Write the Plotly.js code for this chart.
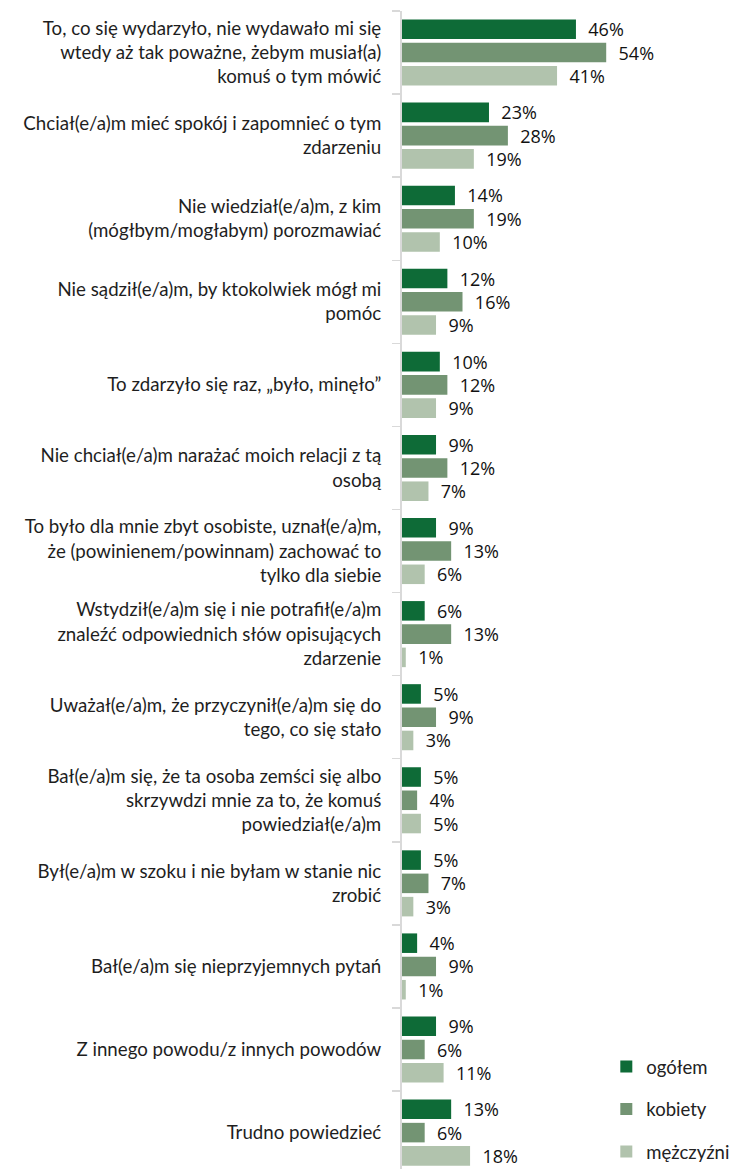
<!DOCTYPE html>
<html>
<head>
<meta charset="utf-8">
<script src="https://cdn.plot.ly/plotly-3.0.1.min.js"></script>
<style>html,body{margin:0;padding:0;background:#fff;}#chart{width:731px;height:1169px;}</style>
</head>
<body>
<div id="chart"></div>
<script>
const categories = [
  "To, co się wydarzyło, nie wydawało mi się<br>wtedy aż tak poważne, żebym musiał(a)<br>komuś o tym mówić",
  "Chciał(e/a)m mieć spokój i zapomnieć o tym<br>zdarzeniu",
  "Nie wiedział(e/a)m, z kim<br>(mógłbym/mogłabym) porozmawiać",
  "Nie sądził(e/a)m, by ktokolwiek mógł mi<br>pomóc",
  "To zdarzyło się raz, „było, minęło”",
  "Nie chciał(e/a)m narażać moich relacji z tą<br>osobą",
  "To było dla mnie zbyt osobiste, uznał(e/a)m,<br>że (powinienem/powinnam) zachować to<br>tylko dla siebie",
  "Wstydził(e/a)m się i nie potrafił(e/a)m<br>znaleźć odpowiednich słów opisujących<br>zdarzenie",
  "Uważał(e/a)m, że przyczynił(e/a)m się do<br>tego, co się stało",
  "Bał(e/a)m się, że ta osoba zemści się albo<br>skrzywdzi mnie za to, że komuś<br>powiedział(e/a)m",
  "Był(e/a)m w szoku i nie byłam w stanie nic<br>zrobić",
  "Bał(e/a)m się nieprzyjemnych pytań",
  "Z innego powodu/z innych powodów",
  "Trudno powiedzieć"
];
const seriesNames = ["ogółem", "kobiety", "mężczyźni"];
const ogolem    = [46, 23, 14, 12, 10, 9, 9, 6, 5, 5, 5, 4, 9, 13];
const kobiety   = [54, 28, 19, 16, 12, 12, 13, 13, 9, 4, 7, 9, 6, 6];
const mezczyzni = [41, 19, 10, 9, 9, 7, 6, 1, 3, 5, 3, 1, 11, 18];
const colors = ["#0e6b37", "#739473", "#b1c3ad"];

const series = [ogolem, kobiety, mezczyzni];
const traces = series.map((vals, i) => ({
  type: "bar",
  orientation: "h",
  name: seriesNames[i],
  legendgroup: "g" + i,
  x: vals,
  y: categories,
  marker: {color: colors[i]},
  text: vals.map(v => v + "%"),
  texttemplate: "\u00a0\u00a0%{text}",
  textposition: "outside",
  constraintext: "none",
  cliponaxis: false,
  textfont: {family: "Open Sans", size: 18, color: "#111"},
  hoverinfo: "none"
}));

const layout = {
  width: 731,
  height: 1169,
  margin: {l: 402, r: 0, t: 11, b: 0, autoexpand: false},
  paper_bgcolor: "#fff",
  plot_bgcolor: "#fff",
  barmode: "group",
  bargap: 0.16,
  bargroupgap: 0.16,
  showlegend: true,
  legend: {
    x: 0.621, xanchor: "left",
    y: 0.1046, yanchor: "top",
    traceorder: "grouped",
    tracegroupgap: 15.5,
    font: {family: "Lato", size: 18.5, color: "#222"},
    bgcolor: "rgba(0,0,0,0)",
    itemwidth: 30
  },
  xaxis: {
    range: [0, 87],
    showgrid: false, zeroline: false, showticklabels: false, showline: false, ticks: ""
  },
  yaxis: {
    type: "category",
    range: [13.438, -0.5],
    showgrid: false, zeroline: false,
    showline: true, linecolor: "#d9d9d9", linewidth: 2,
    ticks: "outside", tickson: "boundaries", ticklen: 8, tickcolor: "#d9d9d9", tickwidth: 1.5,
    ticklabelstandoff: 15,
    tickfont: {family: "Lato", size: 18.7, color: "#1e1e1e"}
  }
};

Plotly.newPlot("chart", traces, layout, {staticPlot: true, displayModeBar: false});
</script>
</body>
</html>
